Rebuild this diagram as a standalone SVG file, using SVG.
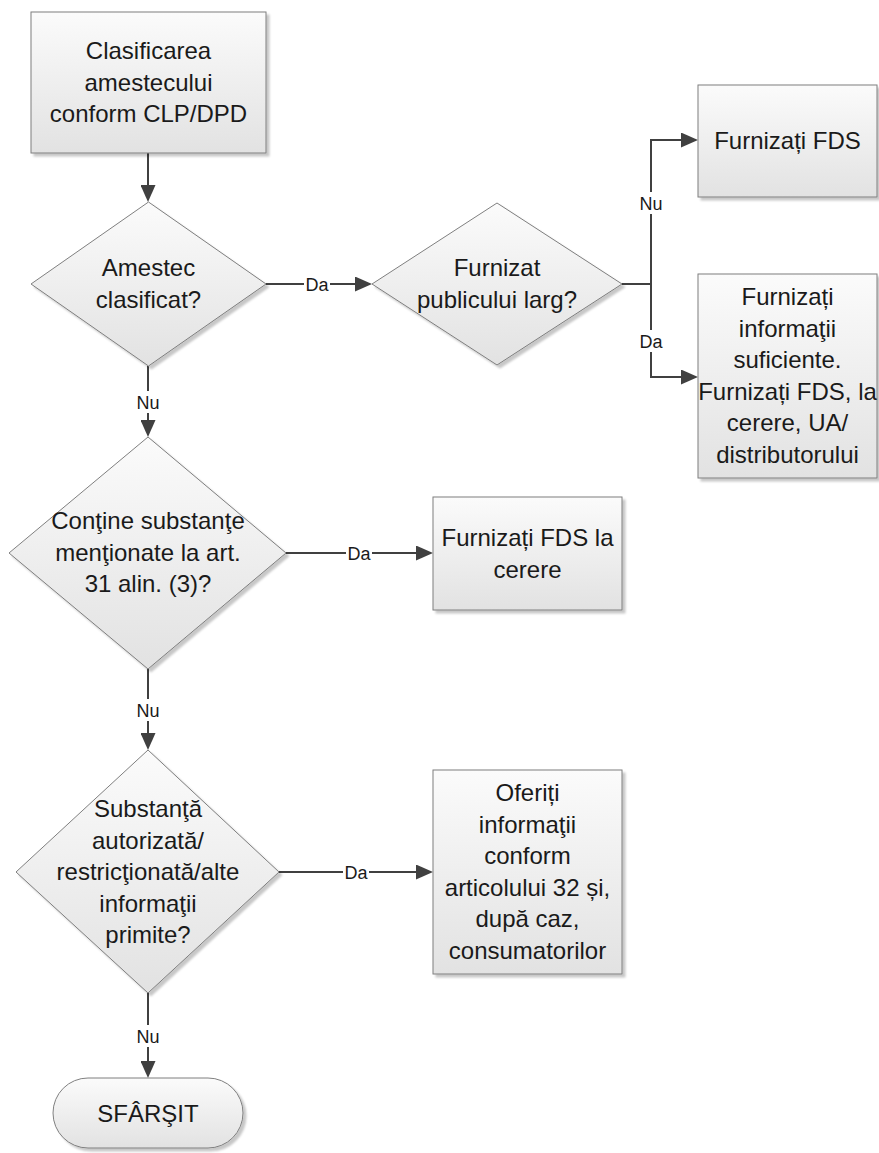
<svg xmlns="http://www.w3.org/2000/svg" width="879" height="1153" viewBox="0 0 879 1153">
<defs>
  <linearGradient id="g" x1="0" y1="0" x2="0" y2="1">
    <stop offset="0" stop-color="#fbfbfb"/>
    <stop offset="1" stop-color="#e2e2e2"/>
  </linearGradient>
  <filter id="sh" x="-10%" y="-10%" width="125%" height="125%">
    <feDropShadow dx="3" dy="3" stdDeviation="1.2" flood-color="#000" flood-opacity="0.22"/>
  </filter>
  <marker id="arr" markerUnits="userSpaceOnUse" markerWidth="17" markerHeight="15" refX="13" refY="7.5" orient="auto">
    <path d="M0,0 L17,7.5 L0,15 z" fill="#404040"/>
  </marker>
  <style>
    .shape { fill: url(#g); stroke: #7f7f7f; stroke-width: 1; filter: url(#sh); }
    .t { font-family: "Liberation Sans", Arial, sans-serif; font-size: 24px; fill: #1a1a1a; text-anchor: middle; }
    .conn { fill: none; stroke: #404040; stroke-width: 2; marker-end: url(#arr); }
    .lbl { font-family: "Liberation Sans", Arial, sans-serif; font-size: 18px; fill: #1a1a1a; text-anchor: middle; }
    .lblbg { fill: #ffffff; }
  </style>
</defs>
<rect width="879" height="1153" fill="#ffffff"/>

<g id="connectors">
  <path class="conn" d="M148,153 V198"/>
  <path class="conn" d="M266,284 H368"/>
  <path class="conn" d="M622,284 H651 V140 H694"/>
  <path class="conn" d="M622,284 H651 V377 H694"/>
  <path class="conn" d="M148,366 V433"/>
  <path class="conn" d="M286,553 H429"/>
  <path class="conn" d="M148,669 V746"/>
  <path class="conn" d="M279,872 H429"/>
  <path class="conn" d="M148,993 V1074"/>
  <g id="labels">
    <rect class="lblbg" x="304" y="275" width="26" height="18"/>
    <text class="lbl" x="317" y="290.5">Da</text>
    <rect class="lblbg" x="638" y="192" width="26" height="22"/>
    <text class="lbl" x="651" y="209.5">Nu</text>
    <rect class="lblbg" x="638" y="330" width="26" height="22"/>
    <text class="lbl" x="651" y="347.5">Da</text>
    <rect class="lblbg" x="135" y="391" width="26" height="22"/>
    <text class="lbl" x="148" y="408.5">Nu</text>
    <rect class="lblbg" x="346" y="544" width="26" height="18"/>
    <text class="lbl" x="359" y="559.5">Da</text>
    <rect class="lblbg" x="135" y="699" width="26" height="22"/>
    <text class="lbl" x="148" y="716.5">Nu</text>
    <rect class="lblbg" x="343" y="863" width="26" height="18"/>
    <text class="lbl" x="356" y="878.5">Da</text>
    <rect class="lblbg" x="135" y="1025" width="26" height="22"/>
    <text class="lbl" x="148" y="1042.5">Nu</text>
  </g>
</g>

<g id="n-clasificare">
  <rect class="shape" x="31" y="12" width="235" height="141"/>
  <text class="t"><tspan x="148.5" y="59">Clasificarea</tspan><tspan x="148.5" y="90.5">amestecului</tspan><tspan x="148.5" y="122">conform CLP/DPD</tspan></text>
</g>

<g id="n-clasificat">
  <polygon class="shape" points="148.5,202 266,284 148.5,366 31,284"/>
  <text class="t"><tspan x="148.5" y="276">Amestec</tspan><tspan x="148.5" y="307.5">clasificat?</tspan></text>
</g>

<g id="n-public">
  <polygon class="shape" points="497,203 622,284 497,365 372,284"/>
  <text class="t"><tspan x="497" y="276">Furnizat</tspan><tspan x="497" y="307.5">publicului larg?</tspan></text>
</g>

<g id="n-fds">
  <rect class="shape" x="698" y="85" width="179" height="112"/>
  <text class="t"><tspan x="787.5" y="149">Furnizați FDS</tspan></text>
</g>

<g id="n-info">
  <rect class="shape" x="698" y="274" width="179" height="204"/>
  <text class="t"><tspan x="787.5" y="305">Furnizați</tspan><tspan x="787.5" y="336.5">informaţii</tspan><tspan x="787.5" y="368">suficiente.</tspan><tspan x="787.5" y="399.5">Furnizați FDS, la</tspan><tspan x="787.5" y="431">cerere, UA/</tspan><tspan x="787.5" y="462.5">distributorului</tspan></text>
</g>

<g id="n-contine">
  <polygon class="shape" points="148,437 286,553 148,669 9,553"/>
  <text class="t"><tspan x="148" y="529">Conţine substanţe</tspan><tspan x="148" y="560.5">menţionate la art.</tspan><tspan x="148" y="592">31 alin. (3)?</tspan></text>
</g>

<g id="n-fds-cerere">
  <rect class="shape" x="433" y="497" width="189" height="113"/>
  <text class="t"><tspan x="527.5" y="546">Furnizați FDS la</tspan><tspan x="527.5" y="577.5">cerere</tspan></text>
</g>

<g id="n-autorizata">
  <polygon class="shape" points="148,750 279,872 148,993 16,872"/>
  <text class="t"><tspan x="148" y="817">Substanţă</tspan><tspan x="148" y="848.5">autorizată/</tspan><tspan x="148" y="880">restricţionată/alte</tspan><tspan x="148" y="911.5">informaţii</tspan><tspan x="148" y="943">primite?</tspan></text>
</g>

<g id="n-oferiti">
  <rect class="shape" x="433" y="770" width="189" height="204"/>
  <text class="t"><tspan x="527.5" y="801">Oferiți</tspan><tspan x="527.5" y="832.5">informaţii</tspan><tspan x="527.5" y="864">conform</tspan><tspan x="527.5" y="895.5">articolului 32 și,</tspan><tspan x="527.5" y="927">după caz,</tspan><tspan x="527.5" y="958.5">consumatorilor</tspan></text>
</g>

<g id="n-sfarsit">
  <rect class="shape" x="53" y="1078" width="190" height="70" rx="35" ry="35"/>
  <text class="t"><tspan x="148" y="1122">SFÂRŞIT</tspan></text>
</g>
</svg>
